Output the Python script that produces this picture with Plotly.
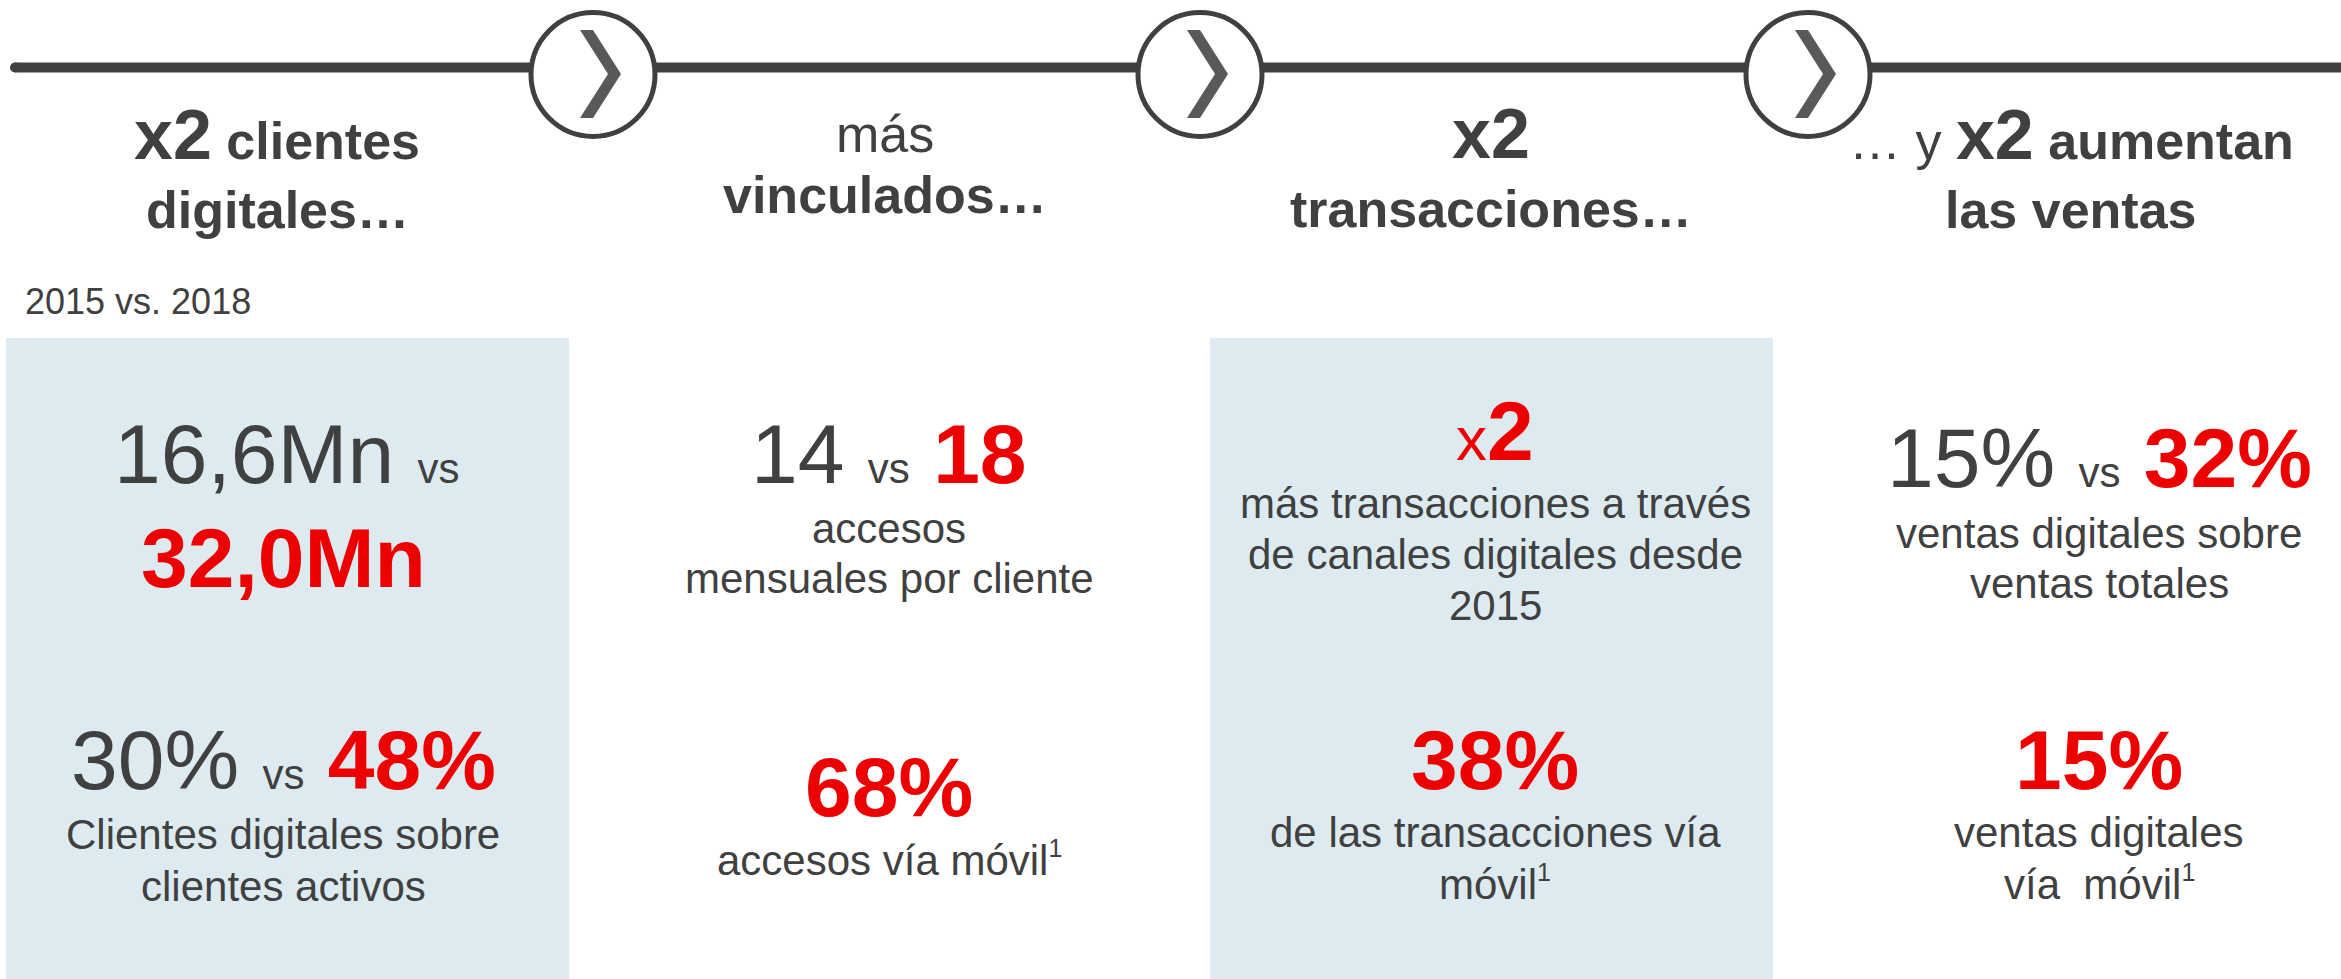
import plotly.graph_objects as go

# ---------------- data (text content) ----------------
period_label = "2015 vs. 2018"

header_prefix = ["", "más", "", "… y"]
header_multiplier = ["x2", "", "x2", "x2"]
header_word = ["clientes", "", "", "aumentan"]
header_line2 = ["digitales…", "vinculados…", "transacciones…", "las ventas"]

top_before = ["16,6Mn", "14", "", "15%"]
top_after = ["32,0Mn", "18", "2", "32%"]
top_multiplier_sign = ["", "", "x", ""]
top_desc = [
    [],
    ["accesos", "mensuales por cliente"],
    ["más transacciones a través", "de canales digitales desde", "2015"],
    ["ventas digitales sobre", "ventas totales"],
]

bottom_before = ["30%", "", "", ""]
bottom_after = ["48%", "68%", "38%", "15%"]
bottom_desc = [
    ["Clientes digitales sobre", "clientes activos"],
    ["accesos vía móvil"],
    ["de las transacciones vía", "móvil"],
    ["ventas digitales", "vía\u00a0 móvil"],
]
bottom_footnote = ["", "1", "1", "1"]
vs_word = "vs"

# ---------------- styling / layout ----------------
W, H = 2341, 979
FONT = "Liberation Sans, Arial, sans-serif"
DARK = "#404040"
RED = "#EC0000"
BOX = "#DDEBF1"
CHEV = "#595959"

F_HEAD = 52
F_HEAD_X2 = 70
F_BIG = 84
F_VS = 42
F_BODY = 42
F_PERIOD = 36
F_SUP = 25

header_cx = [277, 885, 1491, 2071]
header_base = [(159, 228), (152, 213), (158, 227), (159, 228)]
body_cx = [285, 889, 1495, 2099]
top_base = [483, 483, 460, 487]
top_desc_base = [[587], [543, 593], [518, 569, 620], [548, 598]]
bottom_base = [789, 816, 789, 789]
bottom_desc_base = [[849, 901], [875], [847, 899], [847, 899]]
boxes = [(6, 569), (1210, 1773)]
box_top = 338
circle_cx = [593, 1200, 1808]
circle_cy, circle_r = 74.5, 62
line_y = 67.5

annotations = []


def span(t, size=None, color=None, bold=False):
    st = []
    if size:
        st.append(f"font-size:{size}px")
    if color:
        st.append(f"color:{color}")
    s = f"<span style='{';'.join(st)}'>{t}</span>" if st else t
    return f"<b>{s}</b>" if bold else s


def add_text(x, baseline, html, base_size, fs_max=None, color=DARK, xanchor="center"):
    fs_max = fs_max or base_size
    annotations.append(dict(
        x=x, y=baseline + 0.212 * fs_max, xref="x", yref="y",
        text=html, showarrow=False, xanchor=xanchor, yanchor="bottom",
        borderpad=0, borderwidth=0,
        font=dict(family=FONT, size=base_size, color=color),
    ))


# headers
for i in range(4):
    parts = []
    if header_prefix[i]:
        parts.append(header_prefix[i])
    bold_parts = []
    if header_multiplier[i]:
        bold_parts.append(span(header_multiplier[i], size=F_HEAD_X2))
    if header_word[i]:
        bold_parts.append(header_word[i])
    if bold_parts:
        parts.append("<b>" + " ".join(bold_parts) + "</b>")
    fsm = F_HEAD_X2 if header_multiplier[i] else F_HEAD
    add_text(header_cx[i], header_base[i][0], " ".join(parts), F_HEAD, fsm)
    add_text(header_cx[i], header_base[i][1], "<b>" + header_line2[i] + "</b>", F_HEAD)

add_text(25, 314, period_label, F_PERIOD, xanchor="left")

# top metrics
for i in range(4):
    cx = body_cx[i]
    if i == 0:
        add_text(cx + 2, top_base[i], top_before[i] + " " + span(vs_word, size=F_VS), F_BIG)
        add_text(cx - 2, top_desc_base[i][0], span(top_after[i], color=RED, bold=True), F_BIG)
        continue
    if top_multiplier_sign[i]:
        html = span(top_multiplier_sign[i], size=62, color=RED) + span(top_after[i], color=RED, bold=True)
    else:
        html = top_before[i] + " " + span(vs_word, size=F_VS) + " " + span(top_after[i], color=RED, bold=True)
    add_text(cx, top_base[i], html, F_BIG)
    for line, b in zip(top_desc[i], top_desc_base[i]):
        add_text(cx, b, line, F_BODY)

# bottom metrics
for i in range(4):
    cx = body_cx[i] - (2 if i == 0 else 0)
    if bottom_before[i]:
        html = bottom_before[i] + " " + span(vs_word, size=F_VS) + " " + span(bottom_after[i], color=RED, bold=True)
    else:
        html = span(bottom_after[i], color=RED, bold=True)
    add_text(cx, bottom_base[i], html, F_BIG)
    n = len(bottom_desc[i])
    for k, (line, b) in enumerate(zip(bottom_desc[i], bottom_desc_base[i])):
        if k == n - 1 and bottom_footnote[i]:
            line = line + "<sup>" + span(bottom_footnote[i], size=F_SUP) + "</sup>"
        add_text(cx, b, line, F_BODY)

# shapes
shapes = []
for x0, x1 in boxes:
    shapes.append(dict(type="rect", xref="x", yref="y", x0=x0, x1=x1, y0=box_top, y1=H + 5,
                       fillcolor=BOX, line=dict(width=0), layer="below"))
shapes.append(dict(type="line", xref="x", yref="y", x0=15, x1=W + 5, y0=line_y, y1=line_y,
                   line=dict(color=DARK, width=10)))
shapes.append(dict(type="circle", xref="x", yref="y", x0=10, x1=20, y0=line_y - 5, y1=line_y + 5,
                   fillcolor=DARK, line=dict(width=0)))
for cx in circle_cx:
    shapes.append(dict(type="circle", xref="x", yref="y",
                       x0=cx - circle_r, x1=cx + circle_r,
                       y0=circle_cy - circle_r, y1=circle_cy + circle_r,
                       fillcolor="white", line=dict(color=DARK, width=5)))
    pts = [(-13, 30), (0, 30), (28, 74), (0, 118), (-13, 118), (15, 74)]
    path = "M " + " L ".join(f"{cx + dx},{dy}" for dx, dy in pts) + " Z"
    shapes.append(dict(type="path", xref="x", yref="y", path=path,
                       fillcolor=CHEV, line=dict(width=0)))

fig = go.Figure()
fig.update_layout(
    width=W, height=H,
    margin=dict(l=0, r=0, t=0, b=0),
    paper_bgcolor="white", plot_bgcolor="white",
    xaxis=dict(range=[0, W], visible=False, fixedrange=True),
    yaxis=dict(range=[H, 0], visible=False, fixedrange=True),
    shapes=shapes, annotations=annotations, showlegend=False,
)
fig.write_html("out.html", config={"displayModeBar": False},
               post_script="document.body.style.margin='0';document.body.style.overflow='hidden';")
